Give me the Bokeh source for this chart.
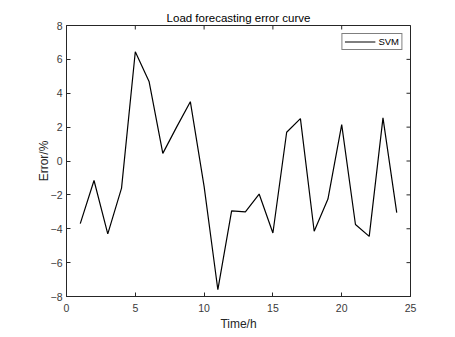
import math
from bokeh.plotting import figure
from bokeh.models import FixedTicker, Range1d, Legend, LegendItem
from bokeh.embed import file_html
from bokeh.resources import INLINE

hours = list(range(1, 25))
svm_error = [-3.7, -1.15, -4.3, -1.6, 6.45, 4.7, 0.45, 2.0, 3.5, -1.5, -7.6, -2.95,
             -3.0, -1.95, -4.25, 1.7, 2.5, -4.15, -2.25, 2.15, -3.75, -4.45, 2.55, -3.05]
x_ticks = [0, 5, 10, 15, 20, 25]
y_ticks = [-8, -6, -4, -2, 0, 2, 4, 6, 8]
x_lo, x_hi = 0, 25
y_lo, y_hi = -8, 8

FONT = "Liberation Sans"
AX = "#262626"

p = figure(frame_width=344, frame_height=271, output_backend="svg", toolbar_location=None,
           x_range=Range1d(x_lo, x_hi), y_range=Range1d(y_lo, y_hi),
           min_border_left=66, min_border_right=30, min_border_top=25, min_border_bottom=10,
           x_axis_label="Time/h", y_axis_label="Error/%")
p.title.text = "Load forecasting error curve"
p.title.align = "center"
p.title.text_font = FONT
p.title.text_font_size = "11.5px"
p.title.text_font_style = "normal"
p.title.text_color = "#000000"
p.title.standoff = 4

p.xgrid.visible = False
p.ygrid.visible = False
p.outline_line_color = AX
p.outline_line_width = 1

for ax, ticks in ((p.xaxis[0], x_ticks), (p.yaxis[0], y_ticks)):
    ax.ticker = FixedTicker(ticks=ticks)
    ax.major_tick_in = 4
    ax.major_tick_out = 0
    ax.minor_tick_line_color = None
    ax.axis_line_color = AX
    ax.major_tick_line_color = AX
    ax.major_label_text_font = FONT
    ax.major_label_text_font_size = "10.5px"
    ax.major_label_text_color = "#3a3a3a"
    ax.axis_label_text_font = FONT
    ax.axis_label_text_font_size = "12px"
    ax.axis_label_text_font_style = "normal"
    ax.axis_label_text_color = "#262626"
p.xaxis[0].major_label_standoff = 7
p.xaxis[0].axis_label_standoff = 2
p.yaxis[0].major_label_standoff = 4
p.yaxis[0].axis_label_standoff = -3

# inward ticks on the top and right edges of the box (clipped to the frame)
p.scatter(x_ticks, [y_hi] * len(x_ticks), marker="dash", size=8, angle=math.pi / 2,
          line_color=AX, line_width=1)
p.scatter([x_hi] * len(y_ticks), y_ticks, marker="dash", size=8, angle=0,
          line_color=AX, line_width=1)

r = p.line(hours, svm_error, line_color="black", line_width=1.2)

legend = Legend(items=[LegendItem(label="SVM", renderers=[r])], location="top_right",
                margin=8, padding=2, spacing=0, glyph_width=31, glyph_height=9,
                label_height=9, label_standoff=3,
                label_text_font=FONT, label_text_font_size="9.5px", label_text_color="#000000",
                border_line_color="#000000", border_line_width=1,
                background_fill_color="white", background_fill_alpha=1)
p.add_layout(legend, "center")

open("out.html", "w").write(file_html(p, INLINE))
